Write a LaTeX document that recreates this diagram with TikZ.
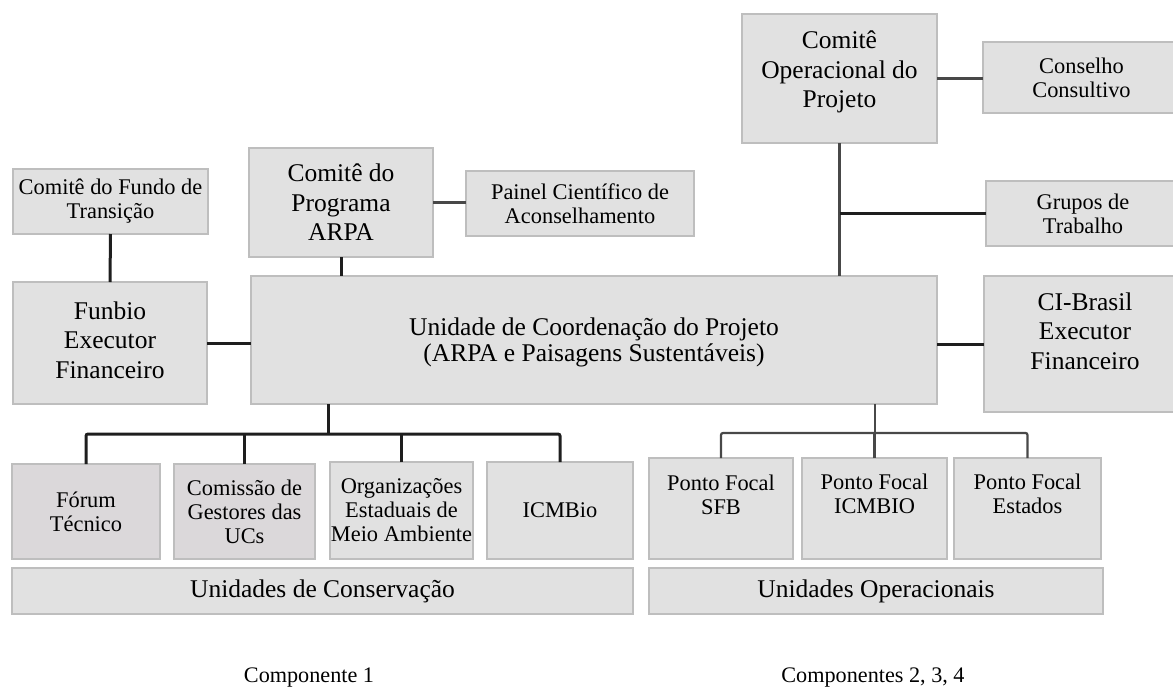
\documentclass[tikz,border=0pt]{standalone}
\usepackage{fontspec}
\setmainfont{Liberation Serif}
\definecolor{boxfill}{RGB}{225,225,225}
\definecolor{boxfilldark}{RGB}{219,216,218}
\definecolor{boxline}{RGB}{190,190,190}
\definecolor{darkline}{RGB}{30,30,30}
\definecolor{greyline}{RGB}{72,72,72}
\newcommand\mkbox[7][]{%
  \node[box,#1,minimum width={#5pt-#3pt},minimum height={#6pt-#4pt}] (#2) at ({(#3+#5)/2},{(#4+#6)/2}) {#7};}
\tikzset{
  box/.style={draw=boxline, line width=1.2pt, fill=boxfill, inner sep=0pt, outer sep=0pt, align=center, text=black},
  dark/.style={fill=boxfilldark},
  big/.style={font=\fontsize{25.5pt}{29.5pt}\selectfont, align=center},
  unidfont/.style={font=\fontsize{25.5pt}{26pt}\selectfont, align=center},
  small/.style={font=\fontsize{22.4pt}{24pt}\selectfont, align=center},
  caption/.style={font=\fontsize{22.2pt}{24pt}\selectfont},
  thickcon/.style={draw=darkline, line width=3pt},
  thincon/.style={draw=greyline, line width=2.2pt},
}
\begin{document}
\begin{tikzpicture}[x=1pt,y=-1pt]
\useasboundingbox (0,0) rectangle (1173,686);
% upper row
\mkbox[small]{fundo}{13}{169}{208}{234}{Comitê do Fundo de\\Transição}
\mkbox[big]{prog}{249}{148}{433}{257}{Comitê do\\Programa\\ARPA}
\mkbox[small]{painel}{466}{171}{694}{236}{Painel Científico de\\Aconselhamento}
\mkbox{op}{742}{14}{937}{143}{}
\node[big] (opt) at (839.5,72) {Comitê\\Operacional do\\Projeto};
\mkbox[small]{cons}{983}{42}{1180}{113}{Conselho\\Consultivo}
\mkbox[small]{grupos}{986}{181}{1180}{246}{Grupos de\\Trabalho}
% middle row
\mkbox{funbio}{13}{282}{207}{404}{}
\node[big] (funbiot) at (110,340) {Funbio\\Executor\\Financeiro};
\mkbox{unid}{251}{276}{937}{404}{}
\node[unidfont] (unidt) at (594,342) {Unidade de Coordenação do Projeto\\(ARPA e Paisagens Sustentáveis)};
\mkbox{ci}{984}{276}{1186}{412}{}
\node[big] (cit) at (1085,331) {CI-Brasil\\Executor\\Financeiro};
% lower row left
\mkbox[small,dark]{forum}{12}{464}{160}{559}{Fórum\\Técnico}
\mkbox[small,dark]{comis}{174}{464}{315}{559}{Comissão de\\Gestores das\\UCs}
\mkbox[small]{org}{330}{462}{473}{559}{Organizações\\Estaduais de\\Meio Ambiente}
\mkbox[small]{icmbio}{487}{462}{633}{559}{ICMBio}
\mkbox[big]{udc}{12}{568}{633}{614}{Unidades de Conservação}
% lower row right
\mkbox{sfb}{649}{458}{793}{559}{}
\mkbox{picm}{802}{458}{947}{559}{}
\mkbox{pest}{954}{458}{1101}{559}{}
\node[small] (sfbt) at (721,495) {Ponto Focal\\SFB};
\node[small] (picmt) at (874.5,494) {Ponto Focal\\ICMBIO};
\node[small] (pestt) at (1027.5,494) {Ponto Focal\\Estados};
\mkbox[big]{uop}{649}{568}{1103}{614}{Unidades Operacionais}
% captions
\node[caption] (c1) at (309,678) {Componente 1};
\node[caption] (c2) at (873,678) {Componentes 2, 3, 4};
% connectors
\draw[thickcon] (fundo.south) -- (funbio.north);
\draw[thincon] (prog.east) -- (prog.east -| painel.west);
\draw[thickcon] (prog.south) -- (prog.south |- unid.north);
\draw[thickcon] (funbio.east) -- (funbio.east -| unid.west);
\draw[thincon] (op.east) -- (op.east -| cons.west);
\draw[thincon] (op.south) -- (op.south |- unid.north);
\coordinate (gj) at (op.south |- grupos.west);
\draw[thickcon, line width=2.6pt] (gj) -- (grupos.west);
\draw[thickcon] (ci.west -| unid.east) -- (ci.west);
% left tree
\coordinate (lbar) at (328,434);
\draw[thickcon] (lbar |- unid.south) -- (lbar);
\draw[thickcon, rounded corners=2pt] (forum.north) -- (forum.north |- lbar) -- (icmbio.north |- lbar) -- (icmbio.north);
\draw[thickcon] (comis.north) -- (comis.north |- lbar);
\draw[thickcon] (org.north) -- (org.north |- lbar);
% right tree
\coordinate (rbar) at (875,433);
\draw[thincon] (rbar |- unid.south) -- (rbar);
\draw[thincon, rounded corners=2pt] (sfb.north) -- (sfb.north |- rbar) -- (pest.north |- rbar) -- (pest.north);
\draw[thincon] (picm.north) -- (picm.north |- rbar);
\end{tikzpicture}
\end{document}
